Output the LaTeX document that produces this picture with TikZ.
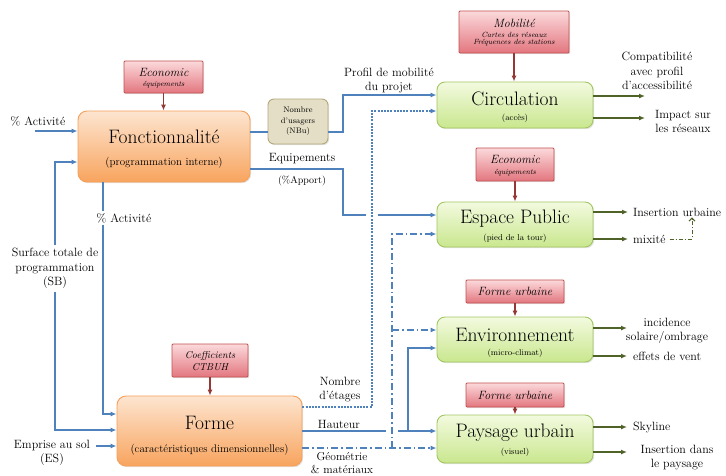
\documentclass[tikz,border=0pt]{standalone}
\usetikzlibrary{arrows.meta,shadows}
\definecolor{bl}{HTML}{4F81BD}
\definecolor{olv}{HTML}{4F6228}
\definecolor{rdA}{HTML}{953735}
\definecolor{rdB}{HTML}{C0504D}
\definecolor{rdT}{HTML}{FBD9DB}
\definecolor{rdBot}{HTML}{E3767F}
\definecolor{orB}{HTML}{F5A05A}
\definecolor{orT}{HTML}{FDE5D0}
\definecolor{orBot}{HTML}{F8A45E}
\definecolor{grB}{HTML}{A3C662}
\definecolor{grT}{HTML}{F3FADF}
\definecolor{grBot}{HTML}{C9E78E}
\definecolor{beB}{HTML}{B3A878}
\definecolor{beF}{HTML}{E4DEC6}
\tikzset{
  shd/.style={drop shadow={shadow xshift=1.2pt,shadow yshift=-1.2pt,opacity=0.22}},
  obox/.style={draw=orB, line width=0.9pt, rounded corners=9pt, top color=orT, bottom color=orBot, inner sep=0pt, shd},
  gbox/.style={draw=grB, line width=0.9pt, rounded corners=8pt, top color=grT, bottom color=grBot, inner sep=0pt, shd, minimum width=156pt},
  rbox/.style={draw=rdB, line width=0.9pt, rounded corners=1pt, top color=rdT, bottom color=rdBot, inner sep=0pt, shd},
  nbox/.style={draw=beB, line width=0.9pt, rounded corners=6pt, fill=beF, inner sep=0pt, shd, align=center, font=\fontsize{8}{10.5}\selectfont},
  bline/.style={draw=bl, line width=1.4pt},
  tip/.style={-{Latex[length=6pt,width=5pt]}},
  barr/.style={bline, tip},
  rarr/.style={draw=rdA, line width=1.3pt, tip},
  oarr/.style={draw=olv, line width=1.4pt, tip},
  dotl/.style={draw=bl, line width=1.1pt, dash pattern=on 2pt off 1.2pt},
  ddot/.style={draw=bl, line width=1.3pt, dash pattern=on 7pt off 3pt on 1.5pt off 3pt},
  lbl/.style={font=\fontsize{12}{14.5}\selectfont, align=center, inner sep=1pt},
  wlbl/.style={lbl, fill=white, inner sep=3pt},
  ttl/.style={font=\fontsize{19.5}{21}\selectfont, inner sep=0pt},
  osub/.style={font=\fontsize{11}{12}\selectfont, inner sep=0pt},
  gsub/.style={font=\fontsize{8.5}{10}\selectfont, inner sep=0pt},
  rt/.style={font=\fontsize{12}{13}\itshape\selectfont, inner sep=0pt},
  rs/.style={font=\fontsize{7.5}{8}\itshape\selectfont, inner sep=0pt},
}
\begin{document}
\begin{tikzpicture}[x=1pt,y=-1pt]
\useasboundingbox (0,0) rectangle (726,475);
% ---------- left boxes
\node[obox, minimum width=172pt, minimum height=71pt] (fonc) at (164,146.5) {};
\node[ttl] (foncT) at (164,137) {Fonctionnalité};
\node[osub] (foncS) at (164,163) {(programmation interne)};
\node[rbox, minimum width=79pt, minimum height=32pt] (eco1) at (163.5,77) {};
\node[rt] (eco1T) at (163.5,72) {Economic};
\node[rs] (eco1S) at (163.5,84.5) {équipements};
\draw[rarr] (eco1.south) -- (fonc.north -| eco1.south);

\node[obox, minimum width=185pt, minimum height=70pt] (forme) at (209.5,431) {};
\node[ttl] (formeT) at (209.5,423) {Forme};
\node[osub] (formeS) at (209.5,450) {(caractéristiques dimensionnelles)};
\node[rbox, minimum width=76pt, minimum height=33pt] (ctb) at (210,360.5) {};
\node[rt, font=\fontsize{10}{11}\itshape\selectfont] (ctbT) at (210,355.5) {Coefficients};
\node[rt, font=\fontsize{10}{11}\itshape\selectfont] (ctbS) at (210,367) {CTBUH};
\draw[rarr] (ctb.south) -- (forme.north -| ctb.south);

\node[nbox, minimum width=60pt, minimum height=45pt] (nbu) at (298,121.5) {Nombre\\d'usagers\\(NBu)};

% ---------- right boxes
\node[gbox, minimum height=46pt] (circ) at (515,105) {};
\node[ttl] (circT) at (515,99) {Circulation};
\node[gsub] (circS) at (515,118) {(accès)};
\node[rbox, minimum width=110pt, minimum height=42pt] (mob) at (514,32) {};
\node[rt] (mobT) at (514,23) {Mobilité};
\node[rs] (mobS1) at (514,34.5) {Cartes des réseaux};
\node[rs] (mobS2) at (514,43) {Fréquences des stations};
\draw[rarr] (mob.south) -- (circ.north -| mob.south);

\node[gbox, minimum height=45pt] (esp) at (515,224.5) {};
\node[ttl] (espT) at (515,219) {Espace Public};
\node[gsub] (espS) at (515,238.5) {(pied de la tour)};
\node[rbox, minimum width=78pt, minimum height=33pt] (eco2) at (515,164.5) {};
\node[rt] (eco2T) at (515,159.5) {Economic};
\node[rs] (eco2S) at (515,172.5) {équipements};
\draw[rarr] (eco2.south) -- (esp.north -| eco2.south);

\node[gbox, minimum height=45pt] (env) at (515,339.5) {};
\node[ttl] (envT) at (515,334.5) {Environnement};
\node[gsub] (envS) at (515,353) {(micro-climat)};
\node[rbox, minimum width=98pt, minimum height=23pt] (fu1) at (515,291.5) {};
\node[rt] (fu1T) at (515,291.5) {Forme urbaine};
\draw[rarr] (fu1.south) -- (env.north -| fu1.south);

\node[gbox, minimum height=48pt] (pay) at (515,439) {};
\node[ttl] (payT) at (515,433) {Paysage urbain};
\node[gsub] (payS) at (515,452) {(visuel)};
\node[rbox, minimum width=98pt, minimum height=24pt] (fu2) at (515,395) {};
\node[rt] (fu2T) at (515,395) {Forme urbaine};
\draw[rarr] (fu2.south) -- (pay.north -| fu2.south);

% ---------- left inputs
\node[lbl] (act1) at (38,121) {\% Activité};
\coordinate (a1) at (35,131);
\draw[barr] (a1) -- (fonc.west |- a1);

\coordinate (sbTop) at (55,162);
\coordinate (sbBot) at (55,430);
\draw[bline, {Latex[length=6pt,width=5pt]}-{Latex[length=6pt,width=5pt]}] (fonc.west |- sbTop) -- (sbTop) -- (sbBot) -- (forme.west |- sbBot);
\node[wlbl] (sb) at (55,268.5) {Surface totale de\\programmation\\(SB)};

\coordinate (pa) at (103,414);
\draw[barr] (fonc.south -| pa) -- (pa) -- (forme.west |- pa);
\node[wlbl, inner sep=2pt] (act2) at (124,218) {\% Activité};

\node[lbl] (es) at (52,453) {Emprise au sol\\(ES)};
\coordinate (e1) at (96,446);
\draw[barr] (e1) -- (forme.west |- e1);

% ---------- middle connectors
\coordinate (n1) at (343,132);
\coordinate (n2) at (343,95);
\draw[bline] (fonc.east |- n1) -- (nbu.west |- n1);
\draw[barr] (nbu.east |- n1) -- (n1) -- (n2) -- (circ.west |- n2);
\node[lbl] (prof) at (389,80.5) {Profil de mobilité\\du projet};

\coordinate (q1) at (343,169);
\coordinate (q2) at (343,215);
\draw[barr] (fonc.east |- q1) -- (q1) -- (q2) -- (esp.west |- q2);
\node[lbl] (equip) at (302,159) {Equipements};
\node[lbl, font=\fontsize{10}{11}\selectfont] (appo) at (302,180.5) {(\%Apport)};

% dotted: Nombre d'etages
\coordinate (d1) at (372,407);
\coordinate (d2) at (372,111);
\fill[white] (366,208) rectangle (378,222);
\draw[dotl, tip] (forme.east |- d1) -- (d1) -- (d2) -- (circ.west |- d2);
\node[lbl] (etag) at (340,389.5) {Nombre\\d'étages};

% dash-dot: Geometrie
\coordinate (g1) at (392,448);
\coordinate (g2) at (392,234);
\coordinate (g3) at (392,330);
\draw[ddot, tip] (forme.east |- g1) -- (pay.west |- g1);
\draw[ddot, tip] (g1) -- (g2) -- (esp.west |- g2);
\draw[ddot, tip] (g3) -- (env.west |- g3);
\node[lbl, font=\fontsize{11.5}{13}\selectfont] (geo) at (342,463) {Géométrie\\\& matériaux};

% Hauteur
\coordinate (h1) at (408,431);
\coordinate (h2) at (408,348);
\draw[bline] (forme.east |- h1) -- (386,431);
\draw[barr] (398,431) -- (pay.west |- h1);
\draw[barr] (h1) -- (h2) -- (env.west |- h2);
\node[lbl] (haut) at (339,424) {Hauteur};

% ---------- outputs
\coordinate (o1) at (645,96);
\coordinate (o2) at (645,118);
\draw[oarr] (circ.east |- o1) -- (o1);
\draw[oarr] (circ.east |- o2) -- (o2);
\node[lbl] (compat) at (657,71) {Compatibilité\\avec profil\\d'accessibilité};
\node[lbl] (impact) at (683,121.5) {Impact sur\\les réseaux};

\coordinate (o3) at (628,212);
\coordinate (o4) at (628,239);
\draw[oarr] (esp.east |- o3) -- (o3);
\draw[oarr] (esp.east |- o4) -- (o4);
\node[lbl, anchor=west] (insu) at (632,212) {Insertion urbaine};
\node[lbl, anchor=west] (mix) at (632,239) {mixité};
\coordinate (m1) at (692,239);
\draw[draw=olv, line width=1pt, dash pattern=on 4pt off 2pt on 1pt off 2pt, -{Straight Barb[length=3pt,width=6pt]}] (mix.east) ++(3,0) -- (m1) -- (insu.south -| m1);

\coordinate (o5) at (627,328);
\coordinate (o6) at (627,356);
\draw[oarr] (env.east |- o5) -- (o5);
\draw[oarr] (env.east |- o6) -- (o6);
\node[lbl] (incid) at (667,331) {incidence\\solaire/ombrage};
\node[lbl, anchor=west] (vent) at (632,356) {effets de vent};

\coordinate (o7) at (627,427);
\coordinate (o8) at (627,452);
\draw[oarr] (pay.east |- o7) -- (o7);
\draw[oarr] (pay.east |- o8) -- (o8);
\node[lbl, anchor=west] (sky) at (632,427) {Skyline};
\node[lbl] (insp) at (677,457.5) {Insertion dans\\le paysage};
\end{tikzpicture}
\end{document}
